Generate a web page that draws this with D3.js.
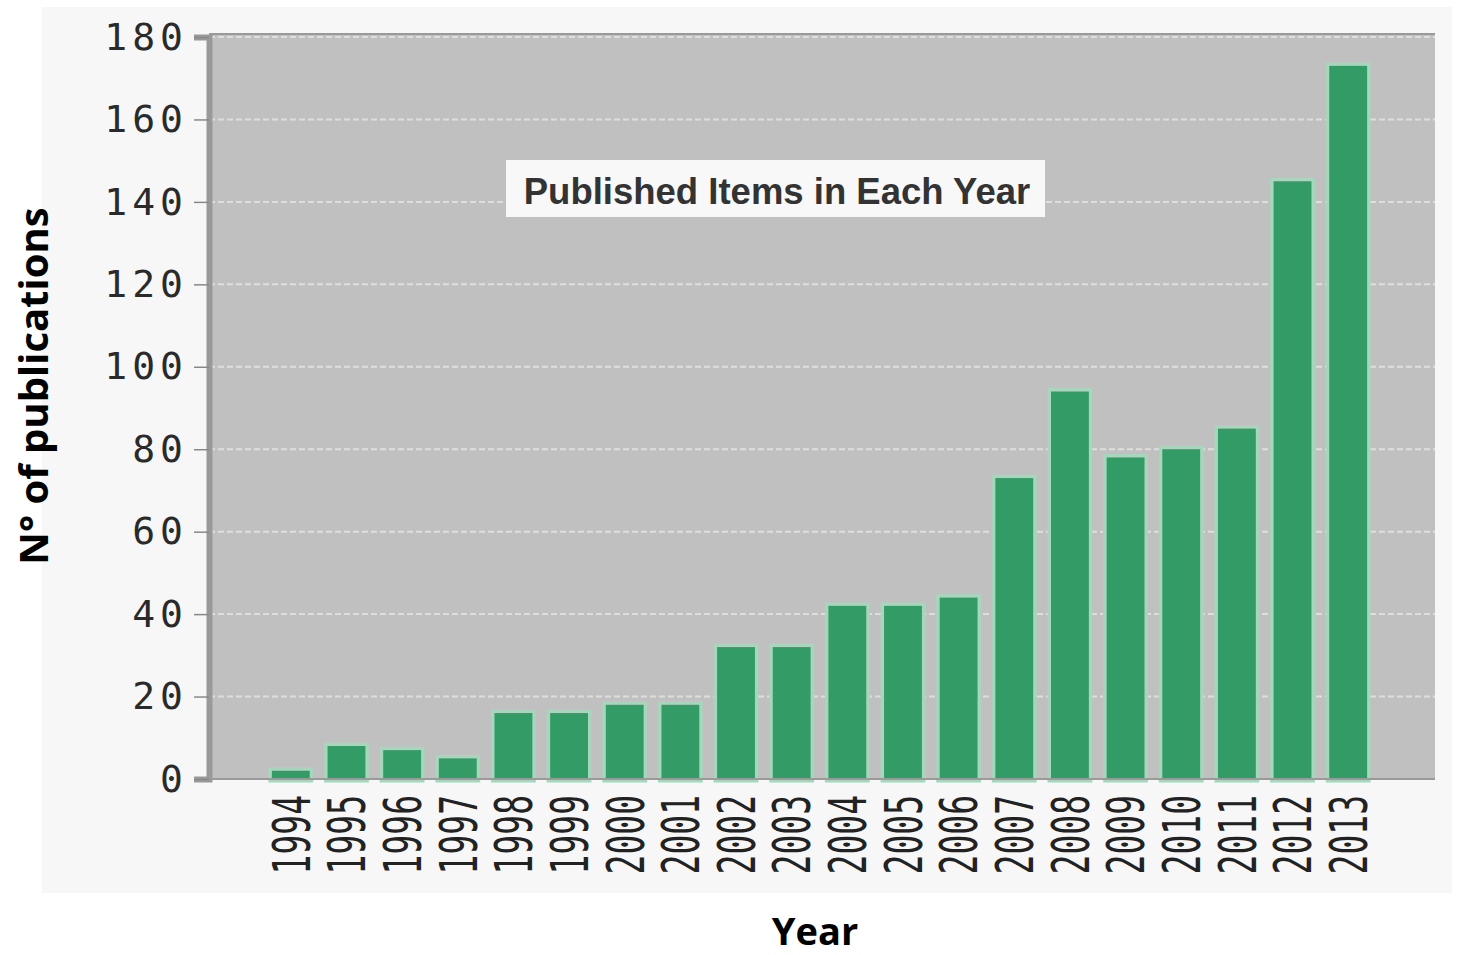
<!DOCTYPE html>
<html>
<head>
<meta charset="utf-8">
<script src="https://cdn.jsdelivr.net/npm/d3@7"></script>
<style>
  body { margin: 0; background: #fff; }
  svg { display: block; }
</style>
</head>
<body>
<div id="vis"></div>
<script>
// values
var years = ['1994', '1995', '1996', '1997', '1998', '1999', '2000', '2001', '2002', '2003',
             '2004', '2005', '2006', '2007', '2008', '2009', '2010', '2011', '2012', '2013'];
var counts = [2, 8, 7, 5, 16, 16, 18, 18, 32, 32, 42, 42, 44, 73, 94, 78, 80, 85, 145, 173];
var yTicks = [0, 20, 40, 60, 80, 100, 120, 140, 160, 180];
var chartTitle = 'Published Items in Each Year';
var yLabel = 'N° of publications';
var xLabel = 'Year';

var width = 1458, height = 955;
var plot = {left: 209, right: 1435, top: 33, bottom: 779};

var svg = d3.select('#vis').append('svg')
  .attr('width', width)
  .attr('height', height);

// light panel behind the chart
svg.append('rect')
  .attr('x', 42).attr('y', 7)
  .attr('width', 1410).attr('height', 886)
  .attr('fill', '#f7f7f7');

var x = d3.scaleBand()
  .domain(years)
  .range([263, 1376])
  .paddingInner(0.32)
  .paddingOuter(0.16);

var y = d3.scaleLinear()
  .domain([0, 180])
  .range([plot.bottom, 37]);

// plot background
svg.append('rect')
  .attr('x', plot.left).attr('y', plot.top)
  .attr('width', plot.right - plot.left)
  .attr('height', plot.bottom - plot.top)
  .attr('fill', '#c0c0c0');

// dashed gridlines
svg.append('g')
  .selectAll('line')
  .data(yTicks.filter(function(d) { return d > 0; }))
  .enter().append('line')
  .attr('x1', plot.left).attr('x2', plot.right)
  .attr('y1', function(d) { return y(d); })
  .attr('y2', function(d) { return y(d); })
  .attr('stroke', '#dedede')
  .attr('stroke-width', 2)
  .attr('stroke-dasharray', '6,3');

// bars with light halo
svg.append('g')
  .selectAll('rect')
  .data(counts)
  .enter().append('rect')
  .attr('x', function(d, i) { return x(years[i]); })
  .attr('y', function(d) { return y(d); })
  .attr('width', x.bandwidth())
  .attr('height', function(d) { return plot.bottom - y(d); })
  .attr('fill', '#339b65')
  .attr('stroke', '#a6d6bb')
  .attr('stroke-width', 7)
  .style('paint-order', 'stroke');

// frame lines
svg.append('line')
  .attr('x1', plot.left).attr('x2', plot.right)
  .attr('y1', plot.top + 1).attr('y2', plot.top + 1)
  .attr('stroke', '#9a9a9a').attr('stroke-width', 2);
svg.append('line')
  .attr('x1', plot.left).attr('x2', plot.right)
  .attr('y1', plot.bottom).attr('y2', plot.bottom)
  .attr('stroke', '#9a9a9a').attr('stroke-width', 2);

// y axis
var yAxis = svg.append('g')
  .attr('transform', 'translate(' + plot.left + ',0)')
  .call(d3.axisLeft(y).tickValues(yTicks).tickSize(15).tickPadding(6));
yAxis.select('.domain')
  .attr('stroke', '#999')
  .attr('stroke-width', 6);
yAxis.selectAll('.tick line')
  .attr('stroke', '#888')
  .attr('stroke-width', 1.5);
yAxis.selectAll('.tick text')
  .attr('fill', '#2a2a2a')
  .style('font-family', '"DejaVu Sans Mono", monospace')
  .style('font-size', '38px')
  .style('letter-spacing', '5px');

// x tick labels, rotated
svg.append('g')
  .selectAll('text')
  .data(years)
  .enter().append('text')
  .attr('transform', function(d) {
    return 'translate(' + (x(d) + x.bandwidth() / 2) + ',795) rotate(-90) scale(1,1.58)';
  })
  .attr('text-anchor', 'end')
  .attr('dy', '0.36em')
  .attr('fill', '#222')
  .style('font-family', '"DejaVu Sans Mono", monospace')
  .style('font-size', '33px')
  .text(function(d) { return d; });

// title box
svg.append('rect')
  .attr('x', 506).attr('y', 160)
  .attr('width', 539).attr('height', 57)
  .attr('fill', '#f8f8f8');
svg.append('text')
  .attr('x', 777).attr('y', 204)
  .attr('text-anchor', 'middle')
  .attr('fill', '#333')
  .style('font-family', '"Liberation Sans", Arial, sans-serif')
  .style('font-weight', 'bold')
  .style('font-size', '36.5px')
  .text(chartTitle);

// axis titles
svg.append('text')
  .attr('transform', 'translate(48,386) rotate(-90)')
  .attr('text-anchor', 'middle')
  .attr('fill', '#000')
  .style('font-family', '"Open Sans", sans-serif')
  .style('font-weight', 'bold')
  .style('font-size', '40px')
  .text(yLabel);

svg.append('text')
  .attr('x', 815).attr('y', 945)
  .attr('text-anchor', 'middle')
  .attr('fill', '#000')
  .style('font-family', '"Open Sans", sans-serif')
  .style('font-weight', 'bold')
  .style('font-size', '38px')
  .text(xLabel);
</script>
</body>
</html>
